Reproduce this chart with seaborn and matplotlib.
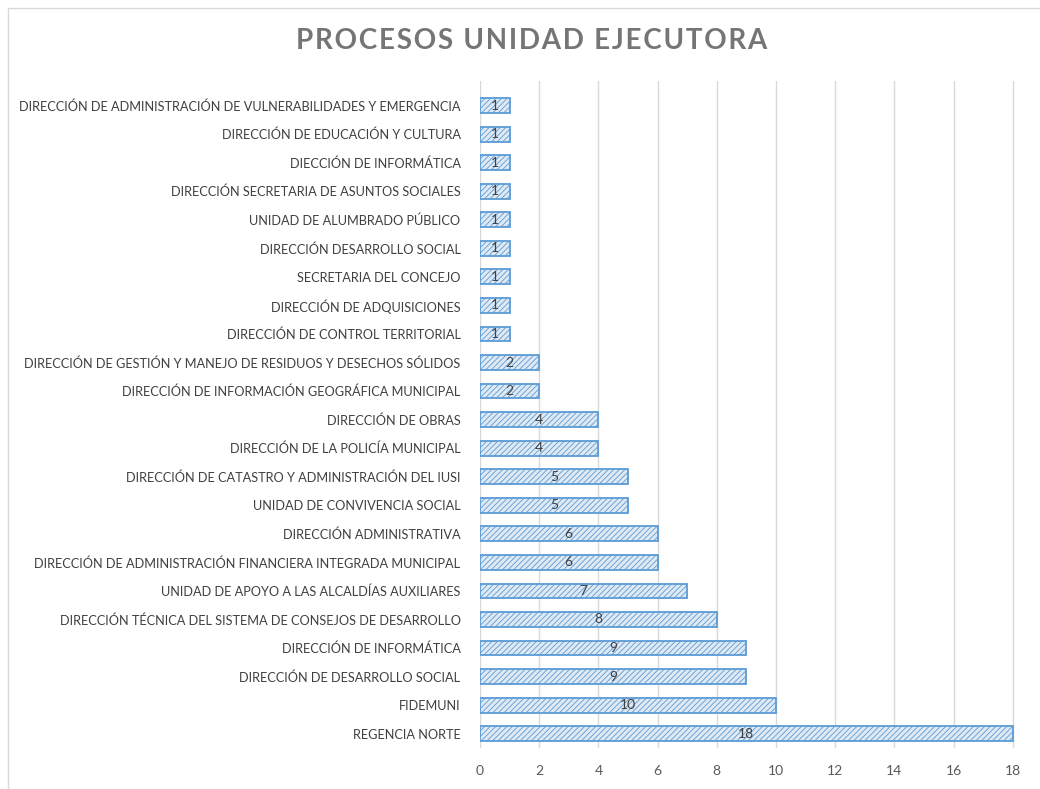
import numpy as np
import pandas as pd
import matplotlib
matplotlib.use("Agg")
import matplotlib.pyplot as plt
import seaborn as sns

unidades = [
    "DIRECCIÓN DE ADMINISTRACIÓN DE VULNERABILIDADES Y EMERGENCIA",
    "DIRECCIÓN DE EDUCACIÓN Y CULTURA",
    "DIECCIÓN DE INFORMÁTICA",
    "DIRECCIÓN SECRETARIA DE ASUNTOS SOCIALES",
    "UNIDAD DE ALUMBRADO PÚBLICO",
    "DIRECCIÓN DESARROLLO SOCIAL",
    "SECRETARIA DEL CONCEJO",
    "DIRECCIÓN DE ADQUISICIONES",
    "DIRECCIÓN DE CONTROL TERRITORIAL",
    "DIRECCIÓN DE GESTIÓN Y MANEJO DE RESIDUOS Y DESECHOS SÓLIDOS",
    "DIRECCIÓN DE INFORMACIÓN GEOGRÁFICA MUNICIPAL",
    "DIRECCIÓN DE OBRAS",
    "DIRECCIÓN DE LA POLICÍA MUNICIPAL",
    "DIRECCIÓN DE CATASTRO Y ADMINISTRACIÓN DEL IUSI",
    "UNIDAD DE CONVIVENCIA SOCIAL",
    "DIRECCIÓN ADMINISTRATIVA",
    "DIRECCIÓN DE ADMINISTRACIÓN FINANCIERA INTEGRADA MUNICIPAL",
    "UNIDAD DE APOYO A LAS ALCALDÍAS AUXILIARES",
    "DIRECCIÓN TÉCNICA DEL SISTEMA DE CONSEJOS DE DESARROLLO",
    "DIRECCIÓN DE INFORMÁTICA",
    "DIRECCIÓN DE DESARROLLO SOCIAL",
    "FIDEMUNI",
    "REGENCIA NORTE",
]
procesos = [1, 1, 1, 1, 1, 1, 1, 1, 1, 2, 2, 4, 4, 5, 5, 6, 6, 7, 8, 9, 9, 10, 18]
x_ticks = [0, 2, 4, 6, 8, 10, 12, 14, 16, 18]

df = pd.DataFrame({"unidad": unidades, "procesos": procesos})

sns.set_style("white")
plt.rcParams["font.family"] = ["Lato", "DejaVu Sans"]
plt.rcParams["hatch.color"] = "#5b9bd5"
plt.rcParams["hatch.linewidth"] = 0.6

fig = plt.figure(figsize=(10.4, 7.89), dpi=100)
ax = fig.add_axes([0.4615, 0.052, 0.518, 0.845])

sns.barplot(data=df, y="unidad", x="procesos", orient="h", width=0.52,
            color="#dce9f7", edgecolor="#5b9bd5", linewidth=1.3, ax=ax)
for p in ax.patches:
    p.set_hatch("//////")

for i, v in enumerate(procesos):
    ax.text(v / 2, i, str(v), ha="center", va="center", fontsize=10, color="#404040")

ax.set_xlim(0, 18.2)
ax.set_ylim(len(unidades) - 0.5, -0.85)
ax.set_xticks(x_ticks)
ax.tick_params(axis="x", colors="#595959", labelsize=10, length=0, pad=12)
ax.tick_params(axis="y", colors="#404040", labelsize=9.2, length=0, pad=14)
ax.xaxis.grid(True, color="#d9d9d9", linewidth=1)
ax.set_axisbelow(True)
for s in ax.spines.values():
    s.set_visible(False)
ax.axvline(0, color="#bfbfbf", linewidth=1.5, zorder=0)
ax.set_xlabel("")
ax.set_ylabel("")

titulo = "PROCESOS UNIDAD EJECUTORA"
fig.text(0.511, 0.948, "\u200a".join(titulo), ha="center", va="center",
         fontsize=20, fontweight="bold", color="#757575")
fig.add_artist(plt.Rectangle((0.008, -0.01), 1.0, 1.0, transform=fig.transFigure,
                             fill=False, edgecolor="#d9d9d9", linewidth=1))

fig.savefig("out.png", dpi=100)
